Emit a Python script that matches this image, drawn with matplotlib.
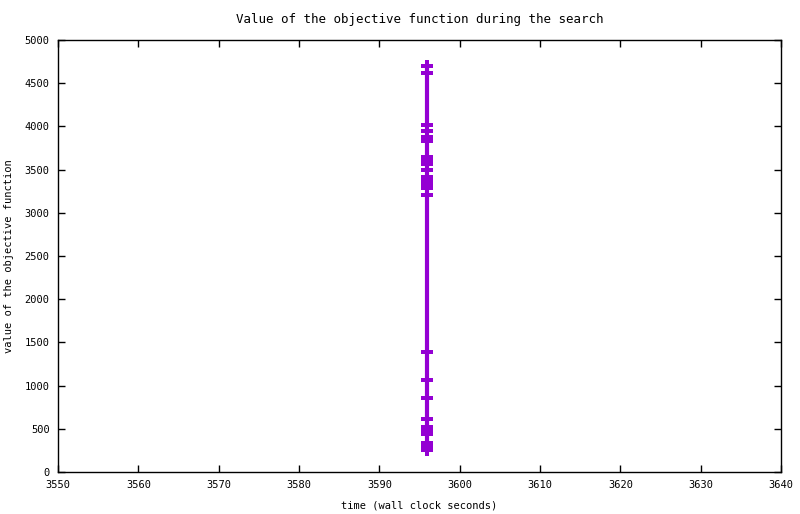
import numpy as np
import matplotlib
matplotlib.use("Agg")
import matplotlib.pyplot as plt

# objective values, all at the same wall clock time
values = [4700, 4620, 4020, 3950, 3880, 3830, 3650, 3610, 3560, 3490,
          3410, 3370, 3330, 3290, 3210, 1390, 1065, 855, 610, 520, 480, 440,
          340, 300, 260]
times = [3595.9] * len(values)

xticks = np.arange(3550, 3641, 10)
yticks = np.arange(0, 5001, 500)

plt.rcParams['font.family'] = ['DejaVu Sans Mono']
plt.rcParams['font.size'] = 7.5

fig = plt.figure(figsize=(8, 5.14), dpi=100)
ax = fig.add_axes([58/800, 1-472/514, (781-58)/800, (472-40)/514])

ax.plot(times, values, color='#9400D3', lw=3, marker='P', ms=8,
        markeredgewidth=0)

ax.set_xlim(3550, 3640)
ax.set_ylim(0, 5000)
ax.set_xticks(xticks)
ax.set_yticks(yticks)
ax.tick_params(direction='in', top=True, right=True, length=5, width=1,
               pad=6)
for s in ax.spines.values():
    s.set_linewidth(1)

ax.set_title("Value of the objective function during the search", pad=12)
ax.set_xlabel("time (wall clock seconds)", labelpad=7)
ax.set_ylabel("value of the objective function", labelpad=8)

fig.savefig("out.png", dpi=100)
